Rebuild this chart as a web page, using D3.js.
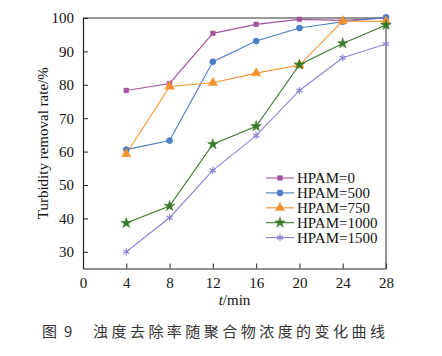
<!DOCTYPE html>
<html><head><meta charset="utf-8">
<script src="https://cdn.jsdelivr.net/npm/d3@7/dist/d3.min.js"></script>
<style>body{margin:0;background:#fff}</style>
</head><body><svg id="c" width="442" height="356"></svg>
<script>
const times = [4, 8, 12, 16, 20, 24, 28];
const seriesNames = ["HPAM=0", "HPAM=500", "HPAM=750", "HPAM=1000", "HPAM=1500"];
const hpam0    = [78.3, 80.4, 95.4, 98.1, 99.6, 99.3, 100.0];
const hpam500  = [60.6, 63.3, 86.9, 93.1, 97.0, 98.9, 100.2];
const hpam750  = [59.3, 79.5, 80.6, 83.5, 85.9, 99.1, 99.0];
const hpam1000 = [38.6, 43.7, 62.2, 67.6, 86.0, 92.4, 97.9];
const hpam1500 = [30.0, 40.2, 54.4, 64.8, 78.3, 88.1, 92.2];
const xTicks = [0, 4, 8, 12, 16, 20, 24, 28];
const yTicks = [30, 40, 50, 60, 70, 80, 90, 100];
const colors = ["#a0559e", "#4c7dc4", "#f5922f", "#3b7a2a", "#8b86d2"];
const symbols = [d3.symbolSquare, d3.symbolCircle, d3.symbolTriangle, d3.symbolStar, d3.symbolAsterisk];
const allSeries = [hpam0, hpam500, hpam750, hpam1000, hpam1500];

const svg = d3.select("#c");
const L = 83, R = 386, T = 18, B = 268.5;
const x = d3.scaleLinear().domain([0, 28]).range([L, R]);
const y = d3.scaleLinear().domain([25, 100]).range([B, T]);
const font = "'Liberation Serif', 'Times New Roman', serif";

// frame
svg.append("line").attr("x1", L).attr("x2", R).attr("y1", T).attr("y2", T).attr("stroke", "#333").attr("stroke-width", 1.2);
svg.append("line").attr("x1", R).attr("x2", R).attr("y1", T).attr("y2", B).attr("stroke", "#888").attr("stroke-width", 1.8);

const xa = svg.append("g").attr("transform", `translate(0,${B})`)
  .call(d3.axisBottom(x).tickValues(xTicks).tickSizeInner(-5).tickSizeOuter(0).tickPadding(9));
const ya = svg.append("g").attr("transform", `translate(${L},0)`)
  .call(d3.axisLeft(y).tickValues(yTicks).tickSizeInner(-5).tickSizeOuter(0).tickPadding(9));
[xa, ya].forEach(a => {
  a.select(".domain").attr("stroke", "#222").attr("stroke-width", 1.2);
  a.selectAll(".tick line").attr("stroke", "#222").attr("stroke-width", 1);
  a.selectAll("text").attr("font-family", font).attr("font-size", 15).attr("fill", "#111");
});

// lines
const line = d3.line().x((d, i) => x(times[i])).y(d => y(d));
allSeries.forEach((s, k) => {
  svg.append("path").datum(s).attr("d", line).attr("fill", "none").attr("stroke", colors[k]).attr("stroke-width", 1.1);
});
function drawSym(g, k, cx, cy) {
  const sz = [22, 30, 38, 36, 36][k];
  const p = g.append("path").attr("d", d3.symbol().type(symbols[k]).size(sz)()).attr("transform", `translate(${cx},${cy})`);
  if (k === 4) p.attr("fill", "none").attr("stroke", colors[k]).attr("stroke-width", 1.2);
  else p.attr("fill", colors[k]).attr("stroke", colors[k]).attr("stroke-width", 0.5);
}
allSeries.forEach((s, k) => {
  s.forEach((v, i) => drawSym(svg, k, x(times[i]), y(v)));
});

// legend
const lg = svg.append("g");
seriesNames.forEach((n, k) => {
  const ly = 178 + k * 14.9;
  lg.append("line").attr("x1", 266).attr("x2", 294).attr("y1", ly).attr("y2", ly).attr("stroke", colors[k]).attr("stroke-width", 1.1);
  drawSym(lg, k, 280, ly);
  lg.append("text").attr("x", 297).attr("y", ly + 5).text(n).attr("font-family", font).attr("font-size", 15).attr("fill", "#111");
});

// axis titles
svg.append("text").attr("transform", `translate(48,${(T + B) / 2}) rotate(-90)`).attr("text-anchor", "middle")
  .attr("font-family", font).attr("font-size", 15).attr("fill", "#111").text("Turbidity removal rate/%");
const xt = svg.append("text").attr("x", (L + R) / 2).attr("y", 305).attr("text-anchor", "middle")
  .attr("font-family", font).attr("font-size", 15).attr("fill", "#111");
xt.append("tspan").attr("font-style", "italic").text("t");
xt.append("tspan").text("/min");

// caption
const capFont = "'Noto Sans CJK SC', sans-serif";
svg.append("text").attr("x", 42).attr("y", 337).attr("font-family", capFont)
  .attr("font-size", 15).attr("fill", "#333").text("图");
svg.append("text").attr("x", 64).attr("y", 337).attr("font-family", capFont)
  .attr("font-size", 15).attr("fill", "#333").text("9");
svg.append("text").attr("x", 93).attr("y", 337).attr("font-family", capFont)
  .attr("font-size", 15).attr("fill", "#333").attr("textLength", 292).text("浊度去除率随聚合物浓度的变化曲线");
</script></body></html>
